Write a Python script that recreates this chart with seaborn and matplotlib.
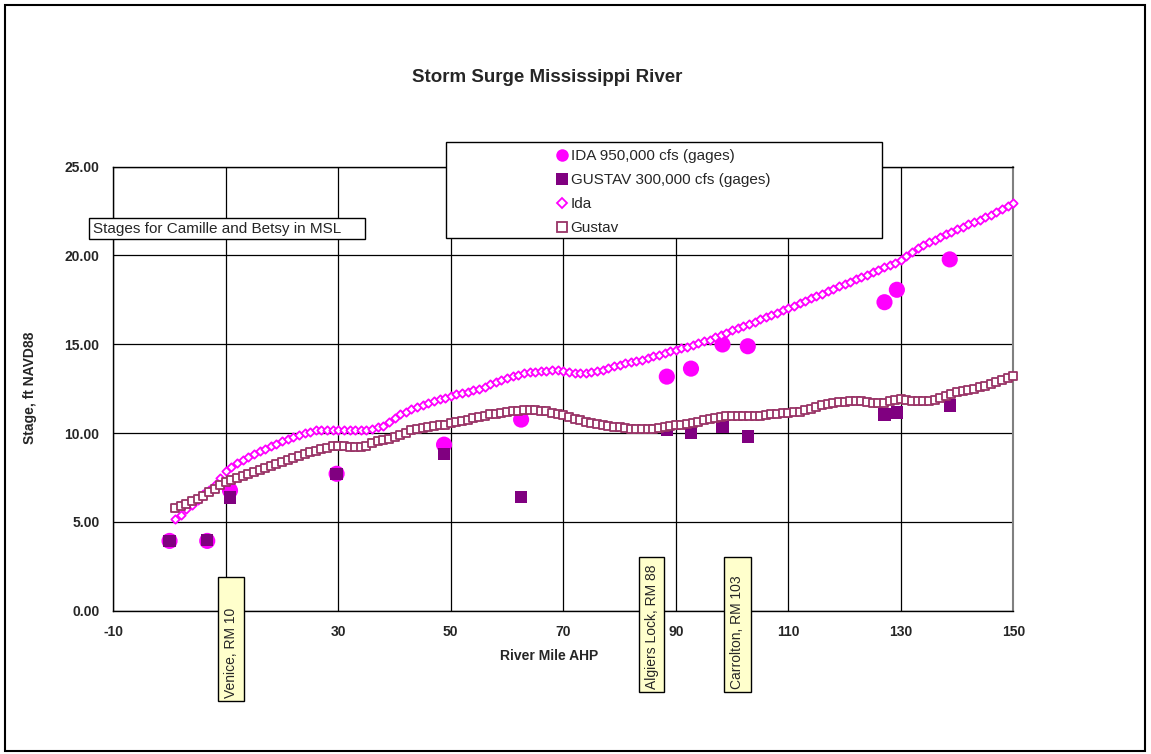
import numpy as np
import pandas as pd
import matplotlib
matplotlib.use("Agg")
import matplotlib.pyplot as plt
from matplotlib.patches import Rectangle
from matplotlib.lines import Line2D
from matplotlib.ticker import FormatStrFormatter
import seaborn as sns

# ---------------- data ----------------
gage_miles = [0.0, 6.7, 10.75, 29.7, 48.8, 62.5, 88.4, 92.7, 98.3, 102.8, 127.1, 129.3, 138.7]
ida_gage = [3.93, 3.93, 6.77, 7.71, 9.35, 10.76, 13.18, 13.63, 14.99, 14.89, 17.37, 18.07, 19.78]
gustav_gage = [3.93, 3.98, 6.37, 7.71, 8.82, 6.41, 10.19, 10.0, 10.34, 9.81, 11.04, 11.17, 11.55]

model_miles = list(range(1, 151))
ida_model = [
    5.15, 5.40, 5.70, 5.96, 6.25, 6.55, 6.80, 7.10, 7.50, 7.85,
    8.10, 8.30, 8.50, 8.65, 8.82, 8.97, 9.12, 9.27, 9.40, 9.53,
    9.65, 9.77, 9.88, 9.98, 10.08, 10.15, 10.20, 10.20, 10.20, 10.18,
    10.17, 10.15, 10.15, 10.17, 10.20, 10.25, 10.32, 10.42, 10.60, 10.85,
    11.05, 11.20, 11.33, 11.45, 11.57, 11.68, 11.80, 11.90, 12.00, 12.10,
    12.18, 12.24, 12.30, 12.40, 12.50, 12.62, 12.75, 12.88, 13.00, 13.10,
    13.20, 13.28, 13.36, 13.42, 13.46, 13.50, 13.52, 13.53, 13.53, 13.50,
    13.45, 13.40, 13.38, 13.40, 13.45, 13.50, 13.58, 13.66, 13.76, 13.86,
    13.95, 14.02, 14.08, 14.14, 14.23, 14.32, 14.42, 14.51, 14.60, 14.68,
    14.77, 14.86, 14.95, 15.05, 15.16, 15.27, 15.39, 15.52, 15.65, 15.78,
    15.90, 16.02, 16.15, 16.28, 16.40, 16.53, 16.66, 16.79, 16.92, 17.04,
    17.16, 17.30, 17.44, 17.58, 17.72, 17.86, 18.00, 18.13, 18.26, 18.39,
    18.52, 18.65, 18.78, 18.92, 19.06, 19.20, 19.33, 19.47, 19.60, 19.75,
    19.95, 20.20, 20.40, 20.60, 20.75, 20.90, 21.05, 21.20, 21.35, 21.50,
    21.63, 21.76, 21.89, 22.02, 22.15, 22.30, 22.45, 22.60, 22.78, 22.95,
]
gustav_model = [
    5.81, 5.90, 6.02, 6.15, 6.30, 6.48, 6.67, 6.85, 7.05, 7.25,
    7.38, 7.50, 7.60, 7.72, 7.83, 7.94, 8.05, 8.17, 8.28, 8.39,
    8.50, 8.60, 8.72, 8.83, 8.93, 9.02, 9.10, 9.18, 9.25, 9.29,
    9.28, 9.24, 9.20, 9.22, 9.30, 9.42, 9.53, 9.60, 9.68, 9.77,
    9.90, 10.03, 10.15, 10.22, 10.28, 10.33, 10.38, 10.43, 10.48, 10.55,
    10.63, 10.70, 10.76, 10.83, 10.90, 10.98, 11.05, 11.10, 11.15, 11.20,
    11.23, 11.26, 11.28, 11.29, 11.29, 11.27, 11.22, 11.15, 11.08, 11.00,
    10.90, 10.80, 10.72, 10.64, 10.57, 10.50, 10.44, 10.39, 10.35, 10.32,
    10.28, 10.25, 10.23, 10.22, 10.23, 10.25, 10.28, 10.33, 10.38, 10.43,
    10.48, 10.53, 10.58, 10.65, 10.72, 10.80, 10.86, 10.92, 10.95, 10.97,
    10.96, 10.94, 10.94, 10.96, 10.99, 11.03, 11.07, 11.10, 11.13, 11.15,
    11.16, 11.20, 11.28, 11.38, 11.48, 11.56, 11.63, 11.69, 11.73, 11.76,
    11.78, 11.79, 11.78, 11.75, 11.72, 11.70, 11.72, 11.80, 11.88, 11.90,
    11.88, 11.83, 11.79, 11.78, 11.80, 11.88, 11.98, 12.10, 12.20, 12.30,
    12.37, 12.43, 12.50, 12.58, 12.67, 12.77, 12.88, 13.00, 13.10, 13.20,
]

x_ticks = [-10, 10, 30, 50, 70, 90, 110, 130, 150]
x_tick_labels = ["-10", "", "30", "50", "70", "90", "110", "130", "150"]  # "10" sits under the Venice box
y_ticks = [0, 5, 10, 15, 20, 25]

gages = pd.DataFrame({"mile": gage_miles, "ida": ida_gage, "gustav": gustav_gage})
model = pd.DataFrame({"mile": model_miles, "ida": ida_model, "gustav": gustav_model})

# ---------------- figure ----------------
sns.set_style("white")
plt.rcParams["font.family"] = ["Liberation Sans", "DejaVu Sans"]
plt.rcParams["axes.unicode_minus"] = False

W, H = 1151, 754
fig = plt.figure(figsize=(W / 100, H / 100), dpi=100)


def fx(px):
    return px / W


def fy(py):
    return 1 - py / H


ax = fig.add_axes([fx(113.3), fy(610.7), fx(1013.3) - fx(113.3), fy(166.7) - fy(610.7)])

sns.scatterplot(data=gages, x="mile", y="ida", ax=ax, marker="o", s=135,
                color="#FF00FF", edgecolor="none", zorder=3, legend=False)
sns.scatterplot(data=gages, x="mile", y="gustav", ax=ax, marker="s", s=80,
                color="#800080", edgecolor="none", zorder=4, legend=False)
sns.scatterplot(data=model, x="mile", y="ida", ax=ax, marker="D", s=18,
                facecolor="white", edgecolor="#FF00FF", linewidth=1.3, zorder=5, legend=False)
sns.scatterplot(data=model, x="mile", y="gustav", ax=ax, marker="s", s=30,
                facecolor="white", edgecolor="#993366", linewidth=1.3, zorder=6, legend=False)
for coll in ax.collections:
    coll.set_clip_on(False)

ax.set_xlim(-10, 150)
ax.set_ylim(0, 25)
ax.set_xticks(x_ticks)
ax.set_xticklabels(x_tick_labels)
ax.set_yticks(y_ticks)
ax.yaxis.set_major_formatter(FormatStrFormatter("%.2f"))
ax.grid(True, color="black", linewidth=0.9)
ax.set_axisbelow(True)
ax.tick_params(direction="out", length=4, width=1, color="black", labelsize=10, pad=6)
for lab in ax.get_xticklabels() + ax.get_yticklabels():
    lab.set_fontweight("bold")
for side in ["left", "bottom", "top"]:
    ax.spines[side].set_color("black")
    ax.spines[side].set_linewidth(1)
ax.spines["right"].set_color("#808080")
ax.spines["right"].set_linewidth(1.5)
ax.set_xlabel("")
ax.set_ylabel("")

fig.text(fx(549), fy(656), "River Mile AHP", ha="center", va="center",
         fontsize=10, fontweight="bold")
fig.text(fx(30), fy(388), "Stage, ft NAVD88", ha="center", va="center",
         rotation=90, fontsize=10, fontweight="bold")
fig.text(fx(547), fy(78), "Storm Surge Mississippi River", ha="center", va="center",
         fontsize=13.5, fontweight="bold")

# legend box
fig.patches.append(Rectangle((fx(446), fy(238.3)), fx(882.3) - fx(446), fy(142.3) - fy(238.3),
                             transform=fig.transFigure, facecolor="white",
                             edgecolor="black", linewidth=1, zorder=10))
handles = [
    Line2D([], [], linestyle="none", marker="o", markersize=9, color="#FF00FF", markeredgewidth=0),
    Line2D([], [], linestyle="none", marker="s", markersize=8, color="#800080", markeredgewidth=0),
    Line2D([], [], linestyle="none", marker="D", markersize=5, markerfacecolor="white",
           markeredgecolor="#FF00FF", markeredgewidth=1.3),
    Line2D([], [], linestyle="none", marker="s", markersize=6.5, markerfacecolor="white",
           markeredgecolor="#993366", markeredgewidth=1.3),
]
labels = ["IDA 950,000 cfs (gages)", "GUSTAV 300,000 cfs (gages)", "Ida", "Gustav"]
leg = fig.legend(handles, labels, loc="upper left", bbox_to_anchor=(fx(556), fy(149)),
                 bbox_transform=fig.transFigure, frameon=False, fontsize=11,
                 handlelength=0.8, handletextpad=0.15, labelspacing=0.66,
                 borderpad=0, borderaxespad=0)
leg.set_zorder(11)

# note box
fig.patches.append(Rectangle((fx(89), fy(239.3)), fx(365) - fx(89), fy(217.7) - fy(239.3),
                             transform=fig.transFigure, facecolor="white",
                             edgecolor="black", linewidth=1, zorder=10))
fig.text(fx(93), fy(228.5), "Stages for Camille and Betsy in MSL", ha="left", va="center",
         fontsize=11, zorder=11)

# rotated location labels
for x0, x1, y0, y1, txt in [(218.3, 244, 576.7, 701, "Venice, RM 10"),
                            (639, 664.3, 556.7, 692.3, "Algiers Lock, RM 88"),
                            (723.7, 750.7, 556.7, 692.3, "Carrolton, RM 103")]:
    fig.patches.append(Rectangle((fx(x0), fy(y1)), fx(x1) - fx(x0), fy(y0) - fy(y1),
                                 transform=fig.transFigure, facecolor="#FFFFCC",
                                 edgecolor="black", linewidth=1, zorder=10))
    fig.text(fx((x0 + x1) / 2), fy(y1 - 3), txt, ha="center", va="bottom",
             rotation=90, fontsize=10, zorder=11)

# outer border
fig.patches.append(Rectangle((fx(5), fy(751)), fx(1145) - fx(5), fy(5) - fy(751),
                             transform=fig.transFigure, facecolor="none",
                             edgecolor="black", linewidth=1.5, zorder=12))

fig.savefig("out.png", dpi=100)
